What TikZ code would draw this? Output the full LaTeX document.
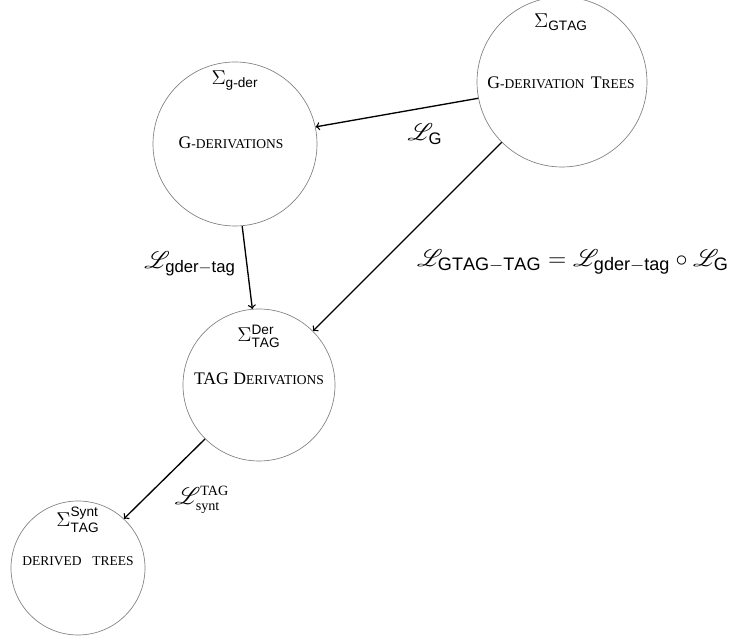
\documentclass[tikz,border=0pt]{standalone}
\usepackage{amsmath}
\usepackage{mathrsfs}
\usepackage{fontspec}
\setmainfont{Liberation Serif}
\setsansfont{Liberation Sans}
\newcommand\fakesc[1]{{\fontsize{8.1}{9}\selectfont #1}}
\tikzset{
  setnode/.style={circle,draw=gray,thin,inner sep=0pt},
  sig/.style={inner sep=1pt,font=\fontsize{11.7}{14}\selectfont},
  ttl/.style={inner sep=1pt,font=\fontsize{10.6}{12}\selectfont},
  arr/.style={->,thick,black},
  lab/.style={inner sep=1pt,font=\Large}
}
\begin{document}
\begin{tikzpicture}[x=0.6pt,y=-0.6pt]
\useasboundingbox (0,0) rectangle (740,639);
% circles
\node[setnode,minimum size=170*0.6pt] (gtag) at (562,82) {};
\node[setnode,minimum size=164*0.6pt] (gder) at (235,144) {};
\node[setnode,minimum size=152*0.6pt] (tag) at (259,385) {};
\node[setnode,minimum size=134*0.6pt] (der) at (78,568) {};
% contents
\node[sig] (sgtag) at (561,22) {$\Sigma_{\mathsf{GTAG}}$};
\node[ttl] (tgtag) at (561,83) {G\fakesc{-DERIVATION}\hspace{0.35em}T\fakesc{REES}};
\node[sig] (sgder) at (235,81) {$\Sigma_{\mathsf{g\text{-}der}}$};
\node[ttl] (tgder) at (231,143) {G\fakesc{-DERIVATIONS}};
\node[sig] (stag) at (259,336) {$\Sigma^{\mathsf{Der}}_{\mathsf{TAG}}$};
\node[ttl] (ttag) at (259,379) {TAG D\fakesc{ERIVATIONS}};
\node[sig] (sder) at (78,520) {$\Sigma^{\mathsf{Synt}}_{\mathsf{TAG}}$};
\node[ttl] (tder) at (78,561) {\fakesc{DERIVED\hspace{0.8em}TREES}};
% arrows
\draw[arr] (gtag.191) -- (gder.12);
\draw[arr] (gtag.225.5) -- (tag.45.5);
\draw[arr] (gder.275.7) -- (tag.95);
\draw[arr] (tag.225.5) -- (der.47);
% labels
\node[lab] (lg) at (425,134) {$\mathscr{L}_{\mathsf{G}}$};
\node[lab,anchor=west,font=\fontsize{15.5}{18}\selectfont] (lgt) at (415,262) {$\mathscr{L}_{\mathsf{GTAG}-\mathsf{TAG}}=\mathscr{L}_{\mathsf{gder}-\mathsf{tag}}\circ\mathscr{L}_{\mathsf{G}}$};
\node[lab] (lgd) at (190,264) {$\mathscr{L}_{\mathsf{gder}-\mathsf{tag}}$};
\node[lab] (ls) at (202,500) {$\mathscr{L}^{\text{\fontsize{8.5}{9}\selectfont TAG}}_{\text{\fontsize{8.5}{9}\selectfont synt}}$};
\end{tikzpicture}
\end{document}
